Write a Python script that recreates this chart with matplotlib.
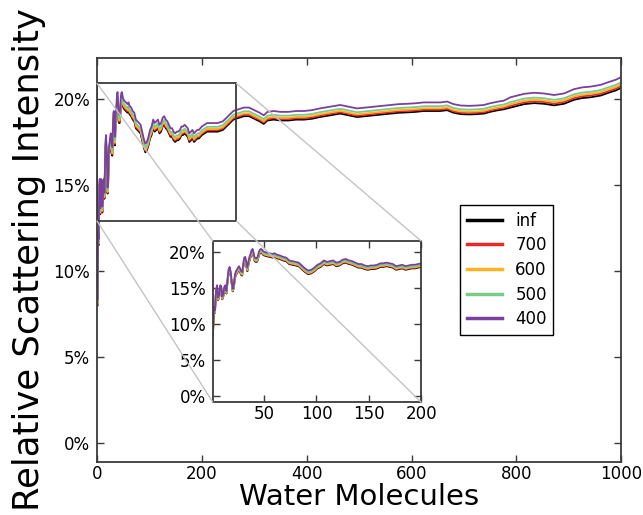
import matplotlib
matplotlib.use("Agg")
import matplotlib.pyplot as plt
from matplotlib.ticker import PercentFormatter
from matplotlib.patches import Rectangle, ConnectionPatch

# water molecules
x = [1, 2, 3, 4, 5, 6, 7, 8, 9, 10, 11, 12, 13, 14, 15, 16, 17, 18, 19, 20,
     21, 22, 23, 24, 25, 26, 27, 28, 29, 30, 31, 32, 33, 34, 35, 36, 37, 38, 39, 40,
     41, 42, 43, 44, 45, 46, 47, 48, 49, 50, 52, 55, 58, 60, 62, 65, 68, 71, 74, 77,
     80, 83, 86, 89, 92, 95, 98, 101, 104, 107, 110, 113, 116, 119, 122, 125, 128, 131, 134, 137,
     140, 143, 146, 149, 152, 155, 158, 161, 164, 167, 170, 173, 176, 179, 182, 185, 188, 191, 194, 197,
     200, 210, 220, 230, 240, 250, 260, 270, 280, 290, 300, 310, 318, 325, 337, 350, 365, 380, 395, 410,
     425, 445, 464, 480, 496, 512, 528, 545, 560, 576, 592, 608, 623, 640, 655, 668, 680, 694, 710, 725,
     738, 750, 764, 776, 789, 802, 815, 834, 853, 872, 891, 910, 925, 942, 961, 975, 990, 1000]

# relative scattering intensity (%), one list per cutoff
inf = [8.0, 12.0, 11.5, 14.2, 15.0, 13.3, 13.6, 15.0, 14.9, 13.4, 13.8, 14.8, 15.0, 14.2, 15.8, 17.0, 17.4, 16.8, 15.6, 14.5,
       15.0, 16.2, 16.8, 17.0, 17.3, 17.5, 17.2, 16.8, 16.7, 17.8, 18.7, 18.8, 18.0, 17.3, 18.2, 18.8, 19.2, 19.7, 19.9, 19.3,
       18.7, 18.6, 18.6, 18.9, 19.5, 19.8, 19.9, 19.8, 19.6, 19.5, 19.4, 19.3, 19.2, 19.3, 19.1, 19.0, 18.8, 18.7, 18.3, 18.2,
       18.1, 18.0, 17.6, 17.2, 16.9, 17.0, 17.3, 17.7, 17.9, 18.3, 18.1, 18.2, 18.3, 18.0, 18.1, 18.4, 18.5, 18.3, 18.2, 18.0,
       17.8, 17.8, 17.6, 17.5, 17.6, 17.6, 17.7, 17.9, 17.9, 18.0, 17.9, 17.8, 17.5, 17.6, 17.7, 17.5, 17.6, 17.7, 17.7, 17.8,
       17.9, 18.1, 18.1, 18.1, 18.2, 18.5, 18.8, 18.9, 19.0, 19.0, 18.85, 18.7, 18.55, 18.75, 18.8, 18.75, 18.75, 18.8, 18.8, 18.85,
       18.95, 19.05, 19.15, 19.05, 18.95, 19.0, 19.05, 19.1, 19.15, 19.2, 19.22, 19.25, 19.3, 19.3, 19.3, 19.35, 19.2, 19.12, 19.1, 19.12,
       19.15, 19.25, 19.34, 19.4, 19.5, 19.6, 19.7, 19.76, 19.72, 19.63, 19.72, 19.95, 20.05, 20.1, 20.2, 20.35, 20.5, 20.65]

c700 = [8.05, 12.05, 11.55, 14.25, 15.05, 13.35, 13.65, 15.05, 14.95, 13.45, 13.85, 14.85, 15.05, 14.25, 15.85, 17.08, 17.48, 16.88, 15.65, 14.55,
        15.05, 16.28, 16.88, 17.08, 17.38, 17.58, 17.28, 16.88, 16.78, 17.88, 18.78, 18.88, 18.08, 17.38, 18.28, 18.88, 19.28, 19.78, 19.98, 19.38,
        18.78, 18.68, 18.68, 18.98, 19.58, 19.88, 19.98, 19.88, 19.68, 19.58, 19.48, 19.38, 19.28, 19.38, 19.18, 19.08, 18.88, 18.78, 18.38, 18.28,
        18.18, 18.08, 17.68, 17.28, 16.98, 17.08, 17.38, 17.78, 17.98, 18.38, 18.18, 18.28, 18.38, 18.08, 18.18, 18.48, 18.58, 18.38, 18.28, 18.08,
        17.88, 17.88, 17.68, 17.58, 17.68, 17.68, 17.78, 17.98, 17.98, 18.08, 17.98, 17.88, 17.58, 17.68, 17.78, 17.58, 17.68, 17.78, 17.78, 17.88,
        17.98, 18.18, 18.18, 18.18, 18.28, 18.58, 18.88, 18.98, 19.08, 19.08, 18.93, 18.78, 18.63, 18.83, 18.88, 18.83, 18.83, 18.88, 18.88, 18.93,
        19.03, 19.13, 19.23, 19.13, 19.03, 19.08, 19.13, 19.18, 19.23, 19.28, 19.3, 19.33, 19.38, 19.38, 19.38, 19.43, 19.28, 19.2, 19.18, 19.2,
        19.23, 19.33, 19.42, 19.48, 19.6, 19.7, 19.8, 19.86, 19.82, 19.73, 19.82, 20.05, 20.15, 20.2, 20.3, 20.45, 20.6, 20.75]

c600 = [8.1, 12.1, 11.6, 14.3, 15.1, 13.4, 13.7, 15.1, 15.0, 13.5, 13.9, 14.9, 15.1, 14.3, 15.9, 17.16, 17.56, 16.96, 15.7, 14.6,
        15.1, 16.36, 16.96, 17.16, 17.46, 17.66, 17.36, 16.96, 16.86, 17.96, 18.86, 18.96, 18.16, 17.46, 18.36, 18.96, 19.36, 19.86, 20.06, 19.46,
        18.86, 18.76, 18.76, 19.06, 19.66, 19.96, 20.06, 19.96, 19.76, 19.66, 19.56, 19.46, 19.36, 19.46, 19.26, 19.16, 18.96, 18.86, 18.46, 18.36,
        18.26, 18.16, 17.76, 17.36, 17.06, 17.16, 17.46, 17.86, 18.06, 18.46, 18.26, 18.36, 18.46, 18.16, 18.26, 18.56, 18.66, 18.46, 18.36, 18.16,
        17.96, 17.96, 17.76, 17.66, 17.76, 17.76, 17.86, 18.06, 18.06, 18.16, 18.06, 17.96, 17.66, 17.76, 17.86, 17.66, 17.76, 17.86, 17.86, 17.96,
        18.06, 18.26, 18.26, 18.26, 18.36, 18.66, 18.96, 19.06, 19.16, 19.16, 19.01, 18.86, 18.71, 18.91, 18.96, 18.91, 18.91, 18.96, 18.96, 19.01,
        19.11, 19.21, 19.31, 19.21, 19.11, 19.16, 19.21, 19.26, 19.31, 19.36, 19.38, 19.41, 19.46, 19.46, 19.46, 19.51, 19.36, 19.28, 19.26, 19.28,
        19.31, 19.41, 19.5, 19.56, 19.7, 19.8, 19.9, 19.96, 19.92, 19.83, 19.92, 20.15, 20.25, 20.3, 20.4, 20.55, 20.7, 20.85]

c500 = [8.2, 12.2, 11.7, 14.4, 15.2, 13.5, 13.8, 15.2, 15.1, 13.6, 14.0, 15.0, 15.2, 14.4, 16.0, 17.28, 17.68, 17.08, 15.8, 14.7,
        15.2, 16.48, 17.08, 17.28, 17.58, 17.78, 17.48, 17.08, 16.98, 18.08, 18.98, 19.08, 18.28, 17.58, 18.48, 19.08, 19.48, 19.98, 20.18, 19.58,
        18.98, 18.88, 18.88, 19.18, 19.78, 20.08, 20.18, 20.08, 19.88, 19.78, 19.68, 19.58, 19.48, 19.58, 19.38, 19.28, 19.08, 18.98, 18.58, 18.48,
        18.38, 18.28, 17.88, 17.48, 17.18, 17.28, 17.58, 17.98, 18.18, 18.58, 18.38, 18.48, 18.58, 18.28, 18.38, 18.68, 18.78, 18.58, 18.48, 18.28,
        18.08, 18.08, 17.88, 17.78, 17.88, 17.88, 17.98, 18.18, 18.18, 18.28, 18.18, 18.08, 17.78, 17.88, 17.98, 17.78, 17.88, 17.98, 17.98, 18.08,
        18.18, 18.38, 18.38, 18.38, 18.48, 18.78, 19.08, 19.18, 19.28, 19.28, 19.13, 18.98, 18.83, 19.03, 19.08, 19.03, 19.03, 19.08, 19.08, 19.13,
        19.23, 19.33, 19.43, 19.33, 19.23, 19.28, 19.33, 19.38, 19.43, 19.48, 19.5, 19.53, 19.58, 19.58, 19.58, 19.63, 19.48, 19.4, 19.38, 19.4,
        19.43, 19.53, 19.62, 19.68, 19.82, 19.92, 20.02, 20.08, 20.04, 19.95, 20.04, 20.27, 20.37, 20.42, 20.52, 20.67, 20.82, 20.97]

c400 = [8.35, 12.35, 11.85, 14.55, 15.35, 13.65, 13.95, 15.35, 15.25, 13.75, 14.15, 15.15, 15.35, 14.55, 16.15, 17.5, 17.9, 17.3, 15.95, 14.85,
        15.35, 16.7, 17.3, 17.5, 17.8, 18.0, 17.7, 17.3, 17.2, 18.3, 19.2, 19.3, 18.5, 17.8, 18.7, 19.3, 19.7, 20.2, 20.4, 19.8,
        19.2, 19.1, 19.1, 19.4, 20.0, 20.3, 20.4, 20.3, 20.1, 20.0, 19.9, 19.8, 19.7, 19.8, 19.6, 19.5, 19.3, 19.2, 18.8, 18.7,
        18.6, 18.5, 18.1, 17.7, 17.4, 17.5, 17.8, 18.2, 18.4, 18.8, 18.6, 18.7, 18.8, 18.5, 18.6, 18.9, 19.0, 18.8, 18.7, 18.5,
        18.3, 18.3, 18.1, 18.0, 18.1, 18.1, 18.2, 18.4, 18.4, 18.5, 18.4, 18.3, 18.0, 18.1, 18.2, 18.0, 18.1, 18.2, 18.2, 18.3,
        18.4, 18.6, 18.6, 18.6, 18.7, 19.0, 19.3, 19.4, 19.5, 19.5, 19.35, 19.2, 19.05, 19.25, 19.3, 19.25, 19.25, 19.3, 19.3, 19.35,
        19.45, 19.55, 19.65, 19.55, 19.45, 19.5, 19.55, 19.6, 19.65, 19.7, 19.72, 19.75, 19.8, 19.8, 19.8, 19.85, 19.7, 19.62, 19.6, 19.62,
        19.65, 19.75, 19.84, 19.9, 20.1, 20.2, 20.3, 20.36, 20.32, 20.23, 20.32, 20.57, 20.67, 20.72, 20.82, 20.97, 21.12, 21.27]

labels = ["inf", "700", "600", "500", "400"]
series = [inf, c700, c600, c500, c400]
colors = ["black", "#e8282b", "#fcb424", "#7acb8a", "#7b3f9f"]

plt.rcParams["font.family"] = "DejaVu Sans"
spine_col = "#3a3a3a"


def style_axes(ax):
    for s in ax.spines.values():
        s.set_color(spine_col)
        s.set_linewidth(1.3)
    ax.tick_params(direction="in", top=True, right=True, length=5,
                   width=1, color=spine_col, labelsize=12)
    ax.tick_params(axis="x", pad=2)
    ax.tick_params(axis="y", pad=5)
    ax.yaxis.set_major_formatter(PercentFormatter(xmax=100, decimals=0))


fig = plt.figure(figsize=(6.43, 5.15), dpi=100)
ax = fig.add_axes([0.151, 0.103, 0.815, 0.785])
for y, c, lab in zip(series, colors, labels):
    ax.plot(x, y, color=c, lw=1.3, label=lab)
ax.set_xlim(0, 1000)
ax.set_ylim(-1.1, 22.4)
ax.set_yticks([0, 5, 10, 15, 20])
ax.set_xticks([0, 200, 400, 600, 800, 1000])
style_axes(ax)
ax.set_xlabel("Water Molecules", fontsize=21, labelpad=0)
ax.set_ylabel("Relative Scattering Intensity", fontsize=25.5, labelpad=5)

leg = ax.legend(loc="upper left", bbox_to_anchor=(0.693, 0.636), borderaxespad=0,
                fontsize=12, handlelength=2.1, labelspacing=0.4, fancybox=False,
                framealpha=1, edgecolor="black")
leg.get_frame().set_linewidth(1.0)
for h in leg.get_lines():
    h.set_linewidth(2.5)

# zoom box on the main axes
rx0, rx1, ry0, ry1 = 0, 266, 12.9, 20.9
ax.add_patch(Rectangle((rx0, ry0), rx1 - rx0, ry1 - ry0, fill=False,
                       edgecolor=spine_col, lw=1.3, zorder=5))

# inset
axins = fig.add_axes([0.331, 0.219, 0.324, 0.313])
for y, c in zip(series, colors):
    axins.plot(x, y, color=c, lw=1.3)
axins.set_xlim(1, 200)
axins.set_ylim(-0.9, 21.5)
axins.set_xticks([50, 100, 150, 200])
axins.set_yticks([0, 5, 10, 15, 20])
style_axes(axins)

for xa, ya, xb, yb in [(rx0, ry1, 0, 1), (rx0, ry0, 0, 0), (rx1, ry1, 1, 1), (rx1, ry0, 1, 0)]:
    con = ConnectionPatch(xyA=(xa, ya), coordsA=ax.transData,
                          xyB=(xb, yb), coordsB=axins.transAxes,
                          color="#c4c4c4", lw=1.0, zorder=10)
    fig.add_artist(con)

fig.savefig("out.png", dpi=100)
